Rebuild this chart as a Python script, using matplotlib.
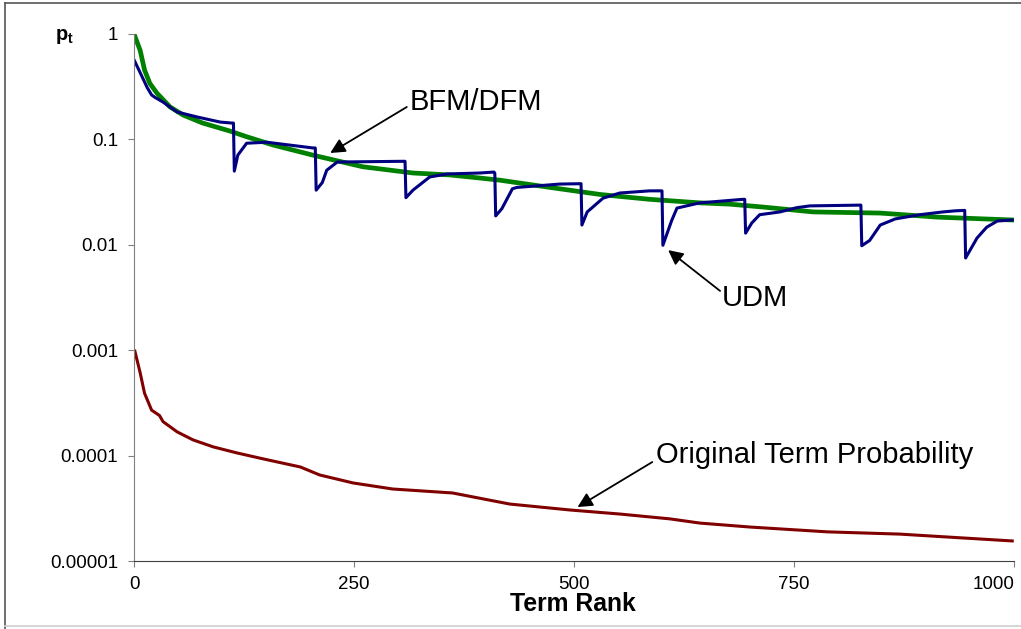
import numpy as np
import matplotlib
matplotlib.use("Agg")
import matplotlib.pyplot as plt
from matplotlib.lines import Line2D

plt.rcParams['font.family'] = ['Liberation Sans', 'DejaVu Sans']

# BFM/DFM (green)
bfm_rank = [0, 7, 12, 18, 26, 41, 56, 78, 109, 128, 158, 203, 260, 317, 359, 393,
            416, 473, 530, 586, 643, 677, 715, 772, 848, 913, 998]
bfm_p = [1.0, 0.70, 0.455, 0.34, 0.275, 0.203, 0.17, 0.143, 0.12, 0.106, 0.0885, 0.071,
         0.055, 0.048, 0.046, 0.043, 0.041, 0.035, 0.030, 0.027, 0.025, 0.0243, 0.0228,
         0.0205, 0.020, 0.0183, 0.0172]

# UDM (blue)
udm_rank = [0, 7, 15, 20, 24, 33, 49, 72, 98, 111, 113, 114, 118, 128, 151, 203, 206,
            207, 214, 219, 231, 307, 308, 309, 317, 336, 356, 393, 409, 410, 411, 418,
            430, 435, 484, 508, 509, 515, 533, 552, 586, 600, 601, 611, 617, 643, 692,
            694, 695, 702, 711, 734, 753, 768, 826, 827, 836, 848, 865, 893, 919, 933,
            944, 945, 958, 969, 981, 998]
udm_p = [0.57, 0.43, 0.31, 0.264, 0.25, 0.226, 0.182, 0.163, 0.146, 0.143, 0.143, 0.05,
         0.071, 0.092, 0.094, 0.083, 0.083, 0.033, 0.039, 0.051, 0.061, 0.062, 0.062,
         0.028, 0.033, 0.044, 0.047, 0.048, 0.049, 0.048, 0.0188, 0.022, 0.034, 0.035,
         0.0377, 0.038, 0.0154, 0.0205, 0.0277, 0.031, 0.0325, 0.0325, 0.0099, 0.017,
         0.0223, 0.025, 0.027, 0.027, 0.0129, 0.0161, 0.0193, 0.0205, 0.0225, 0.0234,
         0.0238, 0.0098, 0.011, 0.0154, 0.0176, 0.0193, 0.0205, 0.021, 0.0212, 0.0075,
         0.0116, 0.0147, 0.0168, 0.0172]

# Original term probability (dark red)
orig_rank = [1, 7, 12, 20, 29, 33, 49, 67, 90, 117, 147, 189, 211, 249, 294, 362, 427,
             495, 552, 609, 643, 700, 788, 870, 939, 998]
orig_p = [0.00098, 0.00061, 0.00039, 0.00027, 0.00024, 0.00021, 0.000168, 0.000141,
          0.000121, 0.000106, 0.000093, 0.000078, 0.0000655, 0.000055, 0.0000482,
          0.0000442, 0.0000347, 0.0000305, 0.0000279, 0.0000251, 0.0000229, 0.000021,
          0.0000189, 0.000018, 0.0000166, 0.0000155]

y_ticks = [1, 0.1, 0.01, 0.001, 0.0001, 0.00001]
y_labels = ['1', '0.1', '0.01', '0.001', '0.0001', '0.00001']
x_ticks = [0, 250, 500, 750, 1000]

W, H = 1021, 629
fig = plt.figure(figsize=(W / 100, H / 100), dpi=100)
ax = fig.add_axes([134 / W, 1 - 561 / H, 880 / W, 527 / H])

ax.plot(orig_rank, orig_p, color='#800000', lw=2.2)
ax.plot(bfm_rank, bfm_p, color='#008000', lw=3.4)
ax.plot(udm_rank, udm_p, color='#000080', lw=2.2)

ax.set_yscale('log')
ax.set_ylim(1e-5, 1)
ax.set_xlim(0, 1000)
ax.set_yticks(y_ticks)
ax.set_yticklabels(y_labels)
ax.set_xticks(x_ticks)
ax.set_xticklabels([str(t) for t in x_ticks])
ax.minorticks_off()
ax.tick_params(axis='both', labelsize=13.5, direction='out', length=4.5,
               color='#808080', labelcolor='black')
ax.tick_params(axis='y', pad=7)
ax.tick_params(axis='x', pad=6)
ax.get_xticklabels()[-1].set_ha('right')

for s in ['top', 'right']:
    ax.spines[s].set_visible(False)
ax.spines['left'].set_color('#808080')
ax.spines['bottom'].set_color('#404040')

arrow = dict(arrowstyle='-|>', color='black', lw=1.3, mutation_scale=22,
             shrinkA=0, shrinkB=0)
ax.annotate('', xy=(223, 0.0743), xytext=(310, 0.203), arrowprops=arrow)
ax.text(313, 0.226, 'BFM/DFM', fontsize=21, ha='left', va='center')

ax.annotate('', xy=(607, 0.0089), xytext=(666, 0.00365), arrowprops=arrow)
ax.text(668, 0.0031, 'UDM', fontsize=21, ha='left', va='center')

ax.annotate('', xy=(504, 0.0000325), xytext=(589, 0.0000869), arrowprops=arrow)
ax.text(593, 0.000101, 'Original Term Probability', fontsize=21, ha='left', va='center')

fig.text(573 / W, 1 - 604 / H, 'Term Rank', fontsize=17.8, fontweight='bold',
         ha='center', va='center')
fig.text(56 / W, 1 - 40 / H, 'p', fontsize=14.5, fontweight='bold',
         ha='left', va='baseline')
fig.text(68 / W, 1 - 43 / H, 't', fontsize=10, fontweight='bold',
         ha='left', va='baseline')

# frame of the original screenshot
fig.add_artist(Line2D([5 / W, 5 / W], [0, 1 - 2.5 / H], color='#555555', lw=1.2))
fig.add_artist(Line2D([5 / W, 1], [1 - 2.5 / H, 1 - 2.5 / H], color='#555555', lw=1.2))
fig.add_artist(Line2D([5 / W, 1], [1 - 626 / H, 1 - 626 / H], color='#d0d0d0', lw=1.2))

fig.savefig('out.png', dpi=100)
